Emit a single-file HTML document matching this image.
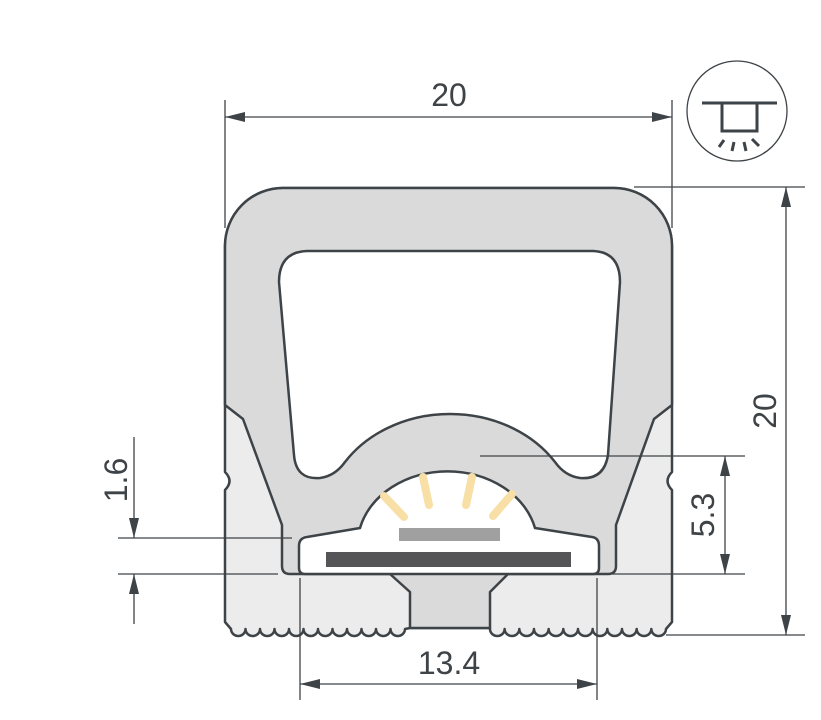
<!DOCTYPE html>
<html><head><meta charset="utf-8"><style>html,body{margin:0;padding:0;background:#fff}svg{display:block}</style></head>
<body>
<svg width="821" height="720" viewBox="0 0 821 720" xmlns="http://www.w3.org/2000/svg">
<defs>
<marker id="a" viewBox="0 0 20 10" refX="20" refY="5" markerWidth="20" markerHeight="10" markerUnits="userSpaceOnUse" orient="auto-start-reverse"><path d="M0,0 L20,5 L0,10 Z" fill="#3e4347"/></marker>
</defs>
<!-- outer silhouette -->
<path d="M225,246 A58,58 0 0 1 283,188 H614 A58,58 0 0 1 672,246 V472 Q663,481 672,490 V622 L666,629
a7.33,7 0 0 1 -14.67,0 a7.33,7 0 0 1 -14.67,0 a7.33,7 0 0 1 -14.67,0 a7.33,7 0 0 1 -14.67,0
a7.33,7 0 0 1 -14.67,0 a7.33,7 0 0 1 -14.67,0 a7.33,7 0 0 1 -14.67,0 a7.33,7 0 0 1 -14.67,0
a7.33,7 0 0 1 -14.67,0 a7.33,7 0 0 1 -14.67,0 a7.33,7 0 0 1 -14.67,0 a7.33,7 0 0 1 -14.67,0
L490,628 H410 L405,629
a7.25,7 0 0 1 -14.5,0 a7.25,7 0 0 1 -14.5,0 a7.25,7 0 0 1 -14.5,0 a7.25,7 0 0 1 -14.5,0
a7.25,7 0 0 1 -14.5,0 a7.25,7 0 0 1 -14.5,0 a7.25,7 0 0 1 -14.5,0 a7.25,7 0 0 1 -14.5,0
a7.25,7 0 0 1 -14.5,0 a7.25,7 0 0 1 -14.5,0 a7.25,7 0 0 1 -14.5,0 a7.25,7 0 0 1 -14.5,0
L225,622 V490 Q234,481 225,472 Z" fill="#ececec" stroke="#3e4347" stroke-width="2.5" stroke-linejoin="round"/>
<!-- darker inner body -->
<path d="M225,405 V246 A58,58 0 0 1 283,188 H614 A58,58 0 0 1 672,246 V405 L654,419 L616,525 V566 Q616,574 608,574 H508 L490,592 V628 H410 V592 L390,574 H290 Q282,574 282,566 V525 L243,419 Z" fill="#dadada" stroke="#3e4347" stroke-width="2.5" stroke-linejoin="round"/>
<!-- window -->
<path d="M307,251 H593 Q620,252 620,282 L608,455 Q604,480 580,478 Q565,476 555,462 A125,105 0 0 0 345,462 Q335,476 320,478 Q296,480 294,455 L279,282 Q279,252 307,251 Z" fill="#fff" stroke="#3e4347" stroke-width="2.5"/>
<!-- pocket -->
<path d="M299,546 Q299,538 307,537 L360,528 A90,74 0 0 1 535,528 L592,537 Q599,538 599,546 V568 Q599,574 593,574 H305 Q299,574 299,568 Z" fill="#fff" stroke="#3e4347" stroke-width="2.5"/>
<rect x="399" y="528" width="101" height="13" fill="#a0a0a0"/>
<rect x="326" y="552" width="245" height="15" fill="#555557"/>
<g stroke="#f8dfa6" stroke-width="8" stroke-linecap="round">
<line x1="384" y1="496" x2="404" y2="517"/>
<line x1="423" y1="477" x2="429" y2="505"/>
<line x1="472" y1="477" x2="466" y2="505"/>
<line x1="512" y1="494" x2="493" y2="516"/>
</g>
<g stroke="#3e4347" stroke-width="1.3" fill="none">
<!-- extension lines -->
<line x1="225" y1="100" x2="225" y2="228"/>
<line x1="672" y1="100" x2="672" y2="228"/>
<line x1="634" y1="187" x2="805" y2="187"/>
<line x1="666" y1="635" x2="805" y2="635"/>
<line x1="480" y1="456" x2="745" y2="456"/>
<line x1="612" y1="574" x2="745" y2="574"/>
<line x1="118" y1="538" x2="292" y2="538"/>
<line x1="118" y1="574" x2="278" y2="574"/>
<line x1="300" y1="578" x2="300" y2="700"/>
<line x1="597" y1="578" x2="597" y2="700"/>
<!-- dimension arrows -->
<line x1="225" y1="117" x2="672" y2="117" marker-start="url(#a)" marker-end="url(#a)"/>
<line x1="786" y1="187" x2="786" y2="635" marker-start="url(#a)" marker-end="url(#a)"/>
<line x1="725" y1="456" x2="725" y2="574" marker-start="url(#a)" marker-end="url(#a)"/>
<line x1="300" y1="684" x2="597" y2="684" marker-start="url(#a)" marker-end="url(#a)"/>
<line x1="134" y1="437" x2="134" y2="538" marker-end="url(#a)"/>
<line x1="134" y1="624" x2="134" y2="574" marker-end="url(#a)"/>
</g>
<!-- icon -->
<circle cx="737" cy="111" r="50" fill="#fff" stroke="#3e4347" stroke-width="1.3"/>
<g stroke="#3e4347" stroke-width="3" fill="none">
<line x1="702" y1="103" x2="777" y2="103"/>
<path d="M722,103 V131 H757 V103"/>
<line x1="724" y1="140" x2="719" y2="147"/>
<line x1="734" y1="142" x2="732" y2="151"/>
<line x1="744" y1="142" x2="746" y2="151"/>
<line x1="752" y1="139" x2="759" y2="146"/>
</g>
<!-- labels -->
<g font-family="Liberation Sans, sans-serif" font-size="32" fill="#3e4347">
<text x="449" y="106" text-anchor="middle">20</text>
<text x="449" y="674" text-anchor="middle">13.4</text>
<text transform="translate(776,411) rotate(-90)" text-anchor="middle">20</text>
<text transform="translate(714,515) rotate(-90)" text-anchor="middle">5.3</text>
<text transform="translate(127,480) rotate(-90)" text-anchor="middle">1.6</text>
</g>
</svg>
</body></html>
